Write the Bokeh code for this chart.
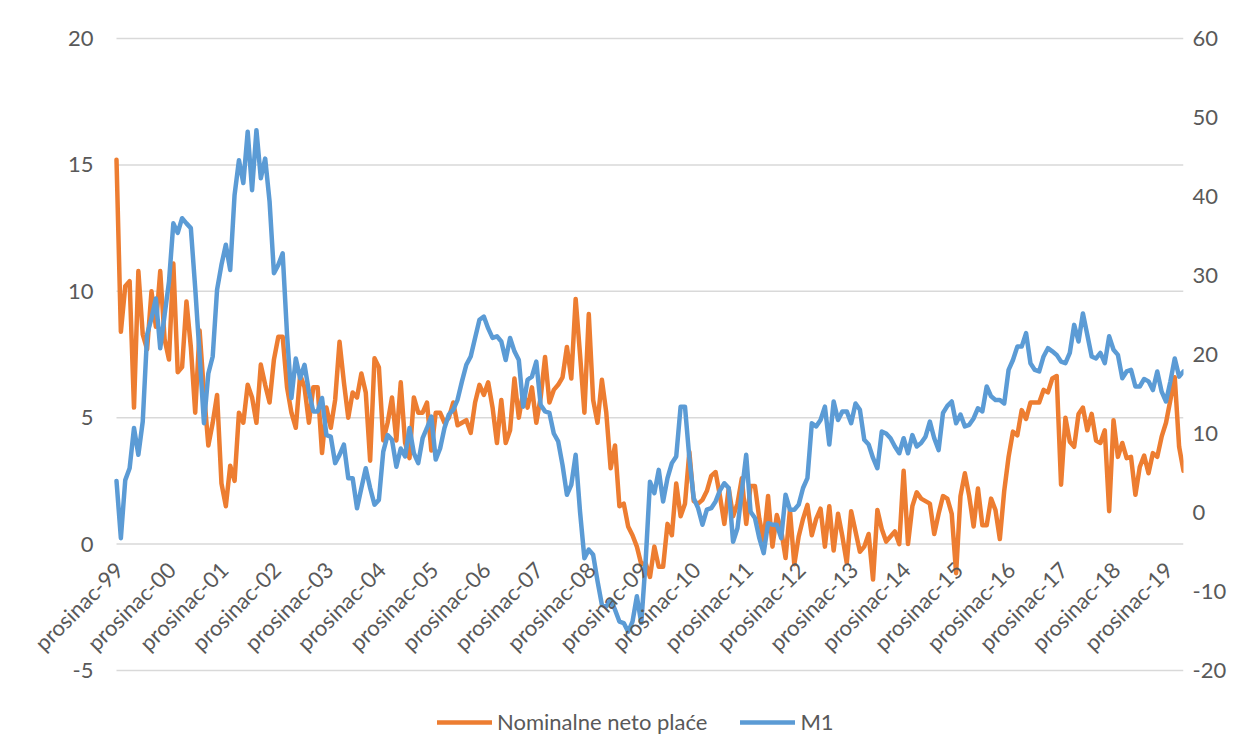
import math
from bokeh.plotting import figure
from bokeh.models import Range1d, LinearAxis, FixedTicker, Legend, LegendItem, LabelSet, ColumnDataSource
from bokeh.core.properties import value
from bokeh.embed import file_html
from bokeh.resources import INLINE

# Monthly year-on-year growth rates, prosinac 1999 onward
wages = [15.2, 8.4, 10.2, 10.4, 5.4, 10.8, 8.3, 7.7, 10.0, 8.6, 10.8, 8.1, 7.3, 11.1, 6.8, 7.0, 9.6, 7.8, 5.2, 8.45,
         6.0, 3.9, 4.8, 5.9, 2.4, 1.5, 3.1, 2.5, 5.2, 4.8, 6.3, 5.8, 4.8, 7.1, 6.3, 5.6, 7.3, 8.2, 8.2, 6.2,
         5.2, 4.6, 6.7,
         6.2, 4.8, 6.2, 6.2, 3.6, 5.4, 4.6, 5.7, 8.0, 6.4, 5.0, 6.0, 5.8, 6.75, 6.0, 3.3, 7.35, 7.0, 4.1, 4.8,
         5.8, 4.1, 6.4, 4.0, 3.4, 5.8, 5.2, 5.2, 5.6, 3.7, 5.2, 5.2, 4.8, 5.0, 5.6, 4.7, 4.8, 4.9, 4.4, 5.6,
         6.3, 5.9, 6.4, 5.4, 4.0, 5.7, 4.0, 4.5, 6.55, 5.0, 6.0, 5.4, 6.2, 4.8, 5.8, 7.4, 5.6, 6.1, 6.3,
         6.6, 7.8, 6.55, 9.7, 7.5, 5.2, 9.1, 5.7, 4.8, 6.5, 5.2, 3.0, 3.9, 1.5, 1.6, 0.7, 0.35, -0.1, -0.8, -0.75,
         -1.3, -0.1, -0.9, -0.9, 0.8, 0.35, 2.4, 1.1, 1.6, 3.65, 1.7, 1.6, 1.75, 2.1, 2.7, 2.85, 1.9, 0.8, 2.2, 1.1,
         1.6, 2.6,
         0.8, 2.3, 2.3, 1.0, 0.15, 1.9, -0.1, 1.15, 0.55, -0.55, 1.35, -0.8, 0.3, 1.0, 1.55, 0.35, 1.0, 1.4, -0.1,
         1.5, -0.25, 1.2, 0.3, -0.75, 1.3, 0.5, -0.3, -0.1, 0.4, -1.4, 1.35, 0.6, 0.1, 0.3, 0.5, 0.0, 2.9, 0.0,
         1.5, 2.05, 1.8, 1.7, 1.6, 0.4, 1.2, 1.9, 1.8,
         1.2, -1.15, 1.9, 2.8, 1.9, 0.7, 2.2, 0.75, 0.75, 1.8, 1.35, 0.2, 2.1, 3.45, 4.45, 4.3, 5.3, 4.95, 5.6,
         5.6, 5.6, 6.1, 6.0, 6.55, 6.65, 2.35, 5.0, 4.05, 3.85, 5.15, 5.4, 4.5, 5.15, 4.1, 4.0, 4.5, 1.3, 4.9,
         3.45, 4.0, 3.4, 3.45, 1.95, 3.05, 3.5, 2.8, 3.6, 3.45, 4.25, 4.8, 5.7, 6.6, 3.85, 2.9]

m1 = [4.0, -3.25, 4.1, 5.6, 10.7, 7.3, 11.5, 22.5, 24.6, 27.1, 20.8, 25.0, 29.2, 36.6, 35.4, 37.25, 36.6, 36.0,
      28.4, 20.0, 11.3, 17.6, 19.75, 28.2, 31.35, 33.9, 30.7, 40.2, 44.6, 41.7, 48.2, 40.8, 48.4, 42.3, 44.8,
      39.4, 30.3, 31.35, 32.8, 22.5, 14.5, 19.5,
      17.0, 18.7, 15.3, 12.8, 12.8, 14.5, 9.8, 9.6, 6.25, 7.3, 8.6, 4.35, 4.35, 0.55, 3.1, 5.6, 3.1, 1.0, 1.6,
      7.7, 9.8, 9.2, 5.8, 8.1, 7.1, 10.7, 7.5, 6.25, 9.4, 10.7, 12.15, 6.7, 8.1, 10.7, 12.4, 13.0, 14.3, 16.6,
      18.7, 19.75, 22.1, 24.4, 24.8, 23.3, 22.1, 22.3, 21.65, 19.3, 22.1, 20.4, 19.3, 13.4, 16.8, 17.2, 19.1,
      13.6, 12.8, 12.6, 10.0, 9.0, 6.0, 2.25, 3.5, 7.3, 0.1, -5.8, -4.7, -5.35, -8.7, -11.7, -11.9, -11.05,
      -12.3, -13.8, -14.0, -15.1, -13.8, -10.6, -14.0, -6.2, 3.9, 2.45, 5.4, 1.4, 4.35, 6.25, 7.1, 13.4, 13.4,
      6.9, 1.8, 0.55, -1.55, 0.35, 0.55, 1.4,
      2.8, 3.7, 3.1, -3.7, -2.0, 2.65, 7.3, 0.1, -0.7, -3.25, -5.15, -1.35, -1.55, -1.55, -3.25, 2.25, 0.35,
      0.35, 1.0, 3.1, 4.35, 11.3, 10.9, 11.7, 13.4, 8.6, 14.05, 11.7, 12.8, 12.8, 11.3, 13.8, 13.0, 9.2, 8.6,
      6.9, 5.6, 10.25, 10.0, 9.4, 8.35, 7.5, 9.4, 7.5, 9.8, 8.35, 8.8, 9.6, 11.5, 9.4, 7.9,
      12.6, 13.5, 14.05, 11.3, 12.4, 10.9, 11.1,
      11.9, 13.2, 12.8, 15.95, 14.7, 14.25, 14.25, 13.8, 18.05, 19.3, 21.0, 21.0, 22.7, 18.9, 18.05, 17.85,
      19.75, 20.8, 20.4, 19.95, 19.1, 18.9, 20.2, 23.75, 21.65, 25.2, 22.5, 19.75, 19.5, 20.2, 18.9, 22.3,
      20.6, 19.95, 17.0, 17.85, 18.05, 15.95, 15.95, 16.9, 16.6, 15.5, 17.85, 15.3, 14.05, 16.6, 19.5, 17.2,
      17.85]

tick_labels = ["prosinac-99", "prosinac-00", "prosinac-01", "prosinac-02", "prosinac-03", "prosinac-04",
               "prosinac-05", "prosinac-06", "prosinac-07", "prosinac-08", "prosinac-09", "prosinac-10",
               "prosinac-11", "prosinac-12", "prosinac-13", "prosinac-14", "prosinac-15", "prosinac-16",
               "prosinac-17", "prosinac-18", "prosinac-19"]
left_ticks = [-5, 0, 5, 10, 15, 20]
right_ticks = [-20, -10, 0, 10, 20, 30, 40, 50, 60]
series_names = ["Nominalne neto plaće", "M1"]

n = min(len(wages), len(m1))
months = list(range(n))
tick_pos = [12 * k for k in range(len(tick_labels))]

FONT = "Lato"
FS = "22px"
TXT = "#595959"
GRID = "#D9D9D9"
ORANGE = "#ED7D31"
BLUE = "#5B9BD5"

# layout (pixels)
W, H = 1238, 740
PLOT_L, PLOT_R = 116, 1183        # horizontal extent of the category axis
PLOT_T, PLOT_B = 38, 670          # vertical extent of the value axes
MB_L, MB_R, MB_T, MB_B = 20, W - PLOT_R, 10, 0
px_per_month = (PLOT_R - PLOT_L) / (n - 1)
x_start = -(PLOT_L - MB_L) / px_per_month

grid_px = float(PLOT_B - PLOT_T)
l_span = left_ticks[-1] - left_ticks[0]
r_span = right_ticks[-1] - right_ticks[0]
top_px = PLOT_T - MB_T
bot_px = (H - MB_B) - PLOT_B
y_end = left_ticks[-1] + top_px / grid_px * l_span
y_start = left_ticks[0] - bot_px / grid_px * l_span
r_end = right_ticks[-1] + top_px / grid_px * r_span
r_start = right_ticks[0] - bot_px / grid_px * r_span

p = figure(width=W, height=H, output_backend="svg", toolbar_location=None,
           x_range=Range1d(x_start, n - 1), y_range=Range1d(y_start, y_end),
           x_axis_type=None, y_axis_type=None, min_border_left=MB_L, min_border_right=MB_R,
           min_border_top=MB_T, min_border_bottom=MB_B)
p.outline_line_color = None
p.background_fill_color = "white"
p.border_fill_color = "white"
p.extra_y_ranges = {"m1": Range1d(r_start, r_end)}

# horizontal gridlines spanning the category range only
p.segment(x0=[0] * len(left_ticks), x1=[n - 1] * len(left_ticks), y0=left_ticks, y1=left_ticks,
          line_color=GRID, line_width=1.5)

# right (secondary) axis
ax_r = LinearAxis(y_range_name="m1", ticker=FixedTicker(ticks=right_ticks),
                  major_label_overrides={t: str(t) for t in right_ticks})
ax_r.axis_line_color = None
ax_r.major_tick_line_color = None
ax_r.minor_tick_line_color = None
ax_r.major_tick_out = 0
ax_r.major_tick_in = 0
ax_r.minor_tick_out = 0
ax_r.major_label_standoff = 9
ax_r.major_label_text_font = FONT
ax_r.major_label_text_font_size = FS
ax_r.major_label_text_color = TXT
p.add_layout(ax_r, "right")

r1 = p.line(months, wages[:n], line_color=ORANGE, line_width=4.5, line_join="round", line_cap="round")
r2 = p.line(months, m1[:n], line_color=BLUE, line_width=4.5, line_join="round", line_cap="round",
            y_range_name="m1")

# left (primary) axis tick labels
left_src = ColumnDataSource(dict(x=[0] * len(left_ticks), y=left_ticks, t=[str(t) for t in left_ticks]))
p.add_layout(LabelSet(x="x", y="y", text="t", source=left_src, text_align="right",
                      text_baseline="middle", x_offset=-23, y_offset=0,
                      text_font=value(FONT), text_font_size=value(FS), text_color=TXT))

# category labels, rotated, hanging below the zero line
lab_src = ColumnDataSource(dict(x=tick_pos, y=[0] * len(tick_pos), t=tick_labels))
p.add_layout(LabelSet(x="x", y="y", text="t", source=lab_src, angle=math.pi / 4,
                      text_align="right", text_baseline="top", x_offset=-7, y_offset=-12,
                      text_font=value(FONT), text_font_size=value(FS), text_color=TXT))

legend = Legend(items=[LegendItem(label=series_names[0], renderers=[r1]),
                       LegendItem(label=series_names[1], renderers=[r2])],
                location=(437 - MB_L, 5), orientation="horizontal")
legend.border_line_color = None
legend.background_fill_alpha = 0
legend.padding = 0
legend.margin = 0
legend.spacing = 33
legend.glyph_width = 55
legend.glyph_height = 26
legend.label_standoff = 5
legend.label_text_font = FONT
legend.label_text_font_size = FS
legend.label_text_color = TXT
p.add_layout(legend, "center")

open("out.html", "w").write(file_html(p, INLINE))
